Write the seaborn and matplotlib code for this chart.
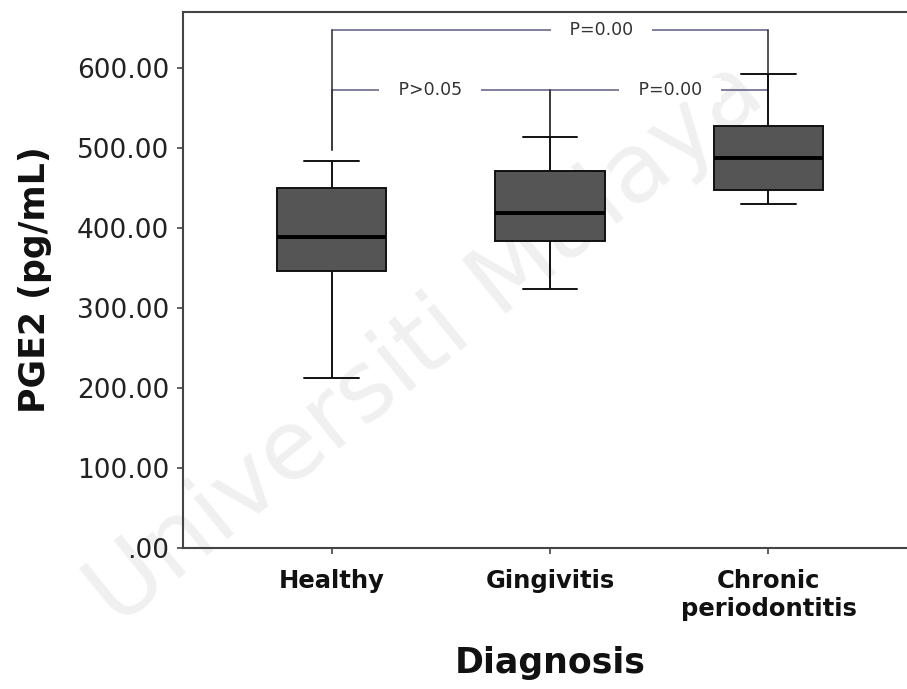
import numpy as np
import pandas as pd
import matplotlib
matplotlib.use("Agg")
import matplotlib.pyplot as plt
import seaborn as sns

# Diagnosis groups on the x axis
groups = ["Healthy", "Gingivitis", "Chronic\nperiodontitis"]

# Five-number summaries per group (pg/mL): min, Q1, median, Q3, max
healthy = [212, 346, 389, 450, 484]
gingivitis = [324, 384, 419, 471, 514]
chronic = [430, 447, 488, 528, 593]

# Y axis ticks
yticks = [0, 100, 200, 300, 400, 500, 600]
ytick_labels = [".00", "100.00", "200.00", "300.00", "400.00", "500.00", "600.00"]

# Pairwise comparisons: (group a, group b, bracket height, label)
comparisons = [
    (0, 1, 572.5, "P>0.05"),
    (1, 2, 572.5, "P=0.00"),
    (0, 2, 647.5, "P=0.00"),
]

df = pd.DataFrame({
    "Diagnosis": np.repeat(groups, 5),
    "PGE2": healthy + gingivitis + chronic,
})

sns.set_style("ticks")
plt.rcParams["font.family"] = ["DejaVu Sans"]

fig = plt.figure(figsize=(9.07, 6.89), dpi=100)
ax = fig.add_axes([183 / 907, 141 / 689, 734 / 907, 536 / 689])

sns.boxplot(
    data=df, x="Diagnosis", y="PGE2", order=groups,
    whis=np.inf, width=0.5, color="#555555", saturation=1,
    linecolor="#111111", linewidth=1.4,
    medianprops=dict(color="black", linewidth=2.8),
    ax=ax,
)

ax.set_xlim(-0.68, 2.68)
ax.set_ylim(0, 670)
ax.set_yticks(yticks)
ax.set_yticklabels(ytick_labels)

for side in ["left", "bottom", "top", "right"]:
    ax.spines[side].set_visible(True)
    ax.spines[side].set_color("#444444")
    ax.spines[side].set_linewidth(1.5)

ax.tick_params(axis="y", direction="out", length=4, width=1.2, pad=6,
               labelsize=19, labelcolor="#222222", color="#444444")
ax.tick_params(axis="x", direction="out", length=4, width=1.2, pad=11,
               labelsize=17.5, labelcolor="#111111", color="#444444")
for lab in ax.get_xticklabels():
    lab.set_fontweight("bold")

ax.set_xlabel("Diagnosis", fontsize=25, fontweight="bold", color="#111111", labelpad=18)
ax.set_ylabel("PGE2 (pg/mL)", fontsize=25, fontweight="bold", color="#111111", labelpad=18)

# significance brackets
tops = [max(healthy), max(gingivitis), max(chronic)]
leg_ends = {0: 497.5}
for a, b, h, label in comparisons:
    ax.plot([a, b], [h, h], color="#5c5c82", lw=1.1, zorder=1.6)
    for g in (a, b):
        end = leg_ends.get(g, tops[g])
        ax.plot([g, g], [h, end], color="#3a3a3a", lw=1.2, zorder=1.6)

label_x = {0: 0.45, 1: 1.55, 2: 1.236}
for i, (a, b, h, label) in enumerate(comparisons):
    ax.text(label_x[i], h, "   " + label + "   ", ha="center", va="center",
            fontsize=12.5, color="#333333", zorder=1.8,
            bbox=dict(boxstyle="square,pad=0.15", fc="white", ec="none"))

# faint diagonal watermark
ax.text(0.47, 0.50, "Universiti Malaya", transform=fig.transFigure,
        rotation=39, fontsize=70, color="#f0f0f0", ha="center", va="center",
        zorder=0.4, clip_on=False)

fig.savefig("out.png", dpi=100, facecolor="white")
